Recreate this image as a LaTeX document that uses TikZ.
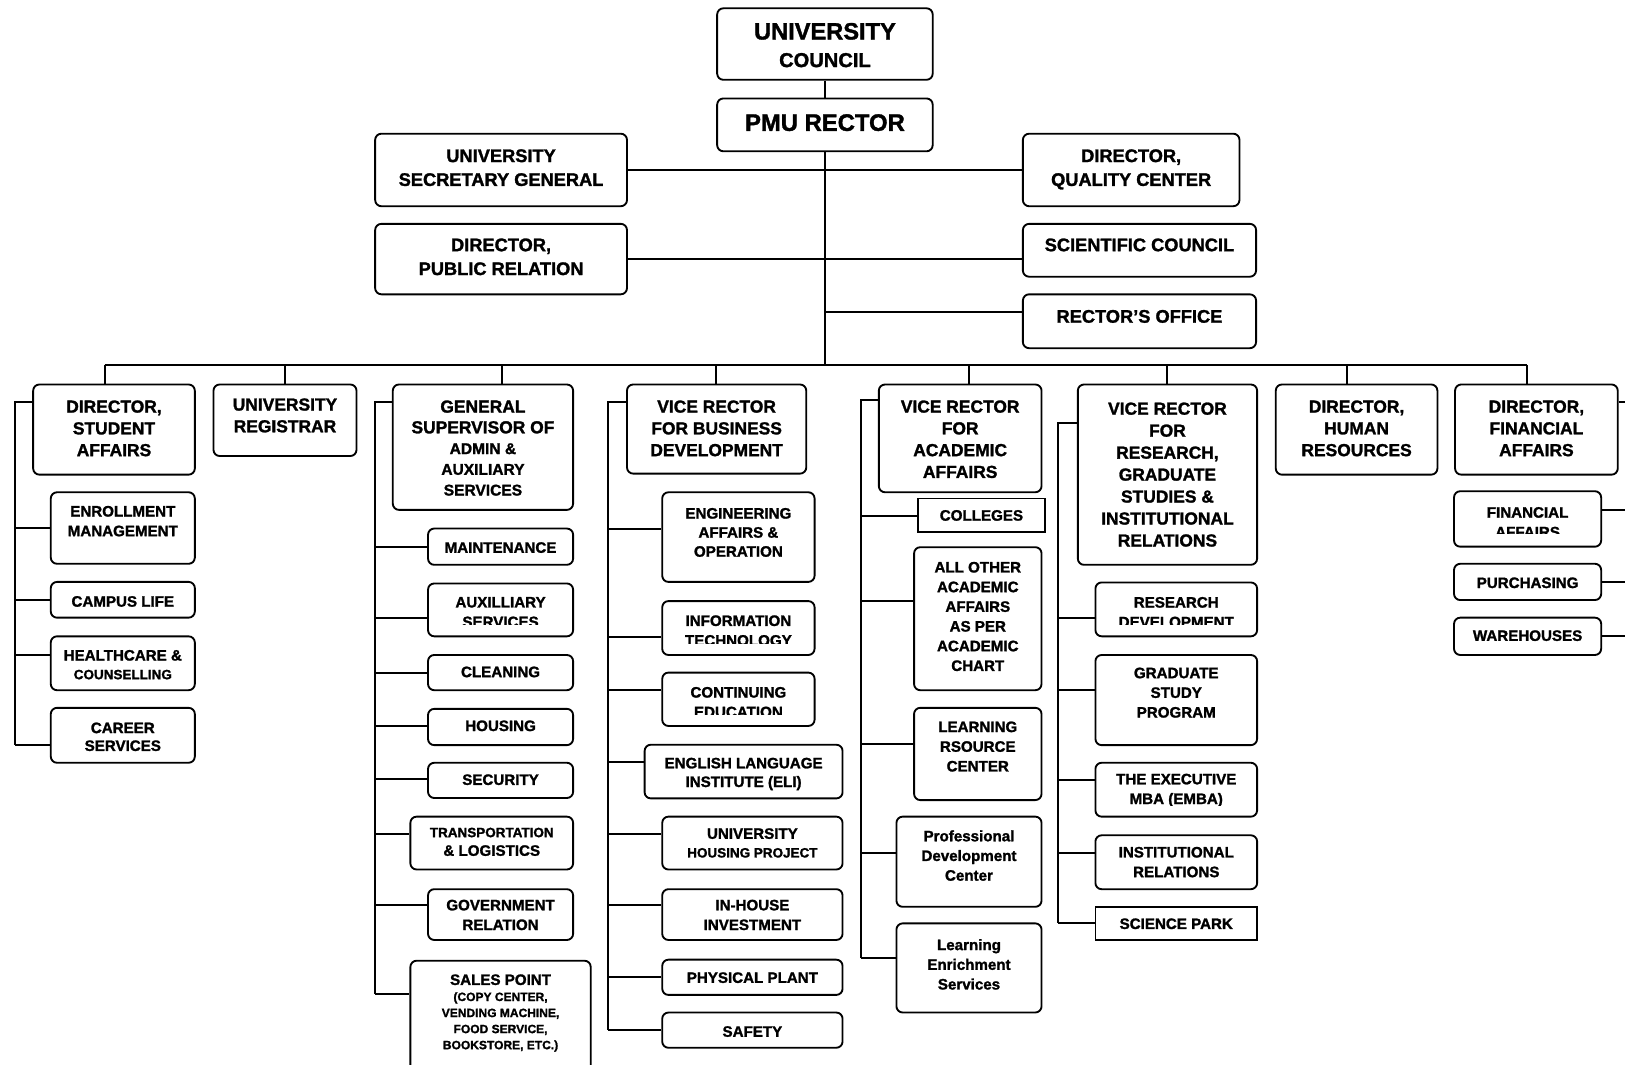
\documentclass[tikz,border=0pt]{standalone}
\usepackage{fontspec}
\setmainfont{Liberation Sans}[BoldFeatures={FakeBold=1.5}]

\tikzset{
  box/.style={draw, line width=0.9pt, rounded corners=3pt, inner sep=0pt},
  sharp/.style={sharp corners},
  lbl/.style={inner sep=0pt, align=center},
  lvA/.style={font=\bfseries\fontsize{8.8}{11.5}\selectfont},
  lvB/.style={font=\bfseries\fontsize{8.4}{10.5}\selectfont},
  lvC/.style={font=\bfseries\fontsize{7.3}{9.5}\selectfont},
  link/.style={line width=0.95pt},
}

% \ob{name}{x1}{y1}{x2}{y2}{text top}{text clip bottom}{style}{text}
\newcommand\ob[9]{%
  \node[box,#8, minimum width={(#4-#2)*0.5pt}, minimum height={(#5-#3)*0.5pt}]
    (#1) at ({(#2+#4)/2},{(#3+#5)/2}) {};
  \begin{scope}
    \clip (#2,#3) rectangle (#4,#7);
    \node[lbl,#8,anchor=north] (#1-t) at ({(#2+#4)/2},#6) {#9};
  \end{scope}}
% branch from a spine to the left side of a box
\newcommand\kid[3]{\draw[link] (#1 |- 0,#3) -- (#2.west |- 0,#3);}
% branch from the right side of a box to a spine
\newcommand\kidr[3]{\draw[link] (#2.east |- 0,#3) -- (#1 |- 0,#3);}

\begin{document}
\begin{tikzpicture}[x=0.5pt, y=-0.5pt]
\useasboundingbox (0,0) rectangle (1568,1027);
\clip (0,0) rectangle (1568,1027);
\fill[white] (0,0) rectangle (1568,1027);

% ---------- top management ----------
\ob{council}{692}{8}{900}{77}{21.8}{77}{font=\bfseries\fontsize{9.7}{13.3}\selectfont}{{\fontsize{11.4}{13.3}\selectfont UNIVERSITY}\\COUNCIL}
\ob{rector}{692}{95}{900}{146}{109.8}{146}{font=\bfseries\fontsize{11.5}{13}\selectfont}{PMU RECTOR}
\ob{usg}{362}{129}{605}{199}{143.7}{199}{lvA}{UNIVERSITY\\SECRETARY GENERAL}
\ob{dqc}{987}{129}{1196}{199}{143.7}{199}{lvA}{DIRECTOR,\\QUALITY CENTER}
\ob{dpr}{362}{216}{605}{284}{229.7}{284}{lvA}{DIRECTOR,\\PUBLIC RELATION}
\ob{sci}{987}{216}{1212}{267}{229.7}{267}{lvA}{SCIENTIFIC COUNCIL}
\ob{ro}{987}{284}{1212}{336}{298.7}{336}{lvA}{RECTOR'S OFFICE}

% ---------- second level ----------
\ob{sa}{32}{371}{188}{458}{386}{458}{lvB}{DIRECTOR,\\STUDENT\\AFFAIRS}
\ob{reg}{206}{371}{344}{440}{384}{440}{lvB}{UNIVERSITY\\REGISTRAR}
\ob{gs}{379}{371}{553}{492}{386}{492}{font=\bfseries\fontsize{8.4}{10}\selectfont}{GENERAL\\SUPERVISOR OF\\{\fontsize{7.5}{10}\selectfont ADMIN \&}\\{\fontsize{7.5}{10}\selectfont AUXILIARY}\\{\fontsize{7.5}{10}\selectfont SERVICES}}
\ob{bd}{605}{371}{778}{457}{386}{457}{lvB}{VICE RECTOR\\FOR BUSINESS\\DEVELOPMENT}
\ob{aa}{848}{371}{1005}{475}{386}{475}{lvB}{VICE RECTOR\\FOR\\ACADEMIC\\AFFAIRS}
\ob{rs}{1040}{371}{1213}{545}{388}{545}{font=\bfseries\fontsize{8.4}{10.6}\selectfont}{VICE RECTOR\\FOR\\RESEARCH,\\GRADUATE\\STUDIES \&\\INSTITUTIONAL\\RELATIONS}
\ob{hr}{1231}{371}{1387}{458}{386}{458}{lvB}{DIRECTOR,\\HUMAN\\RESOURCES}
\ob{fin}{1404}{371}{1561}{458}{386}{458}{lvB}{DIRECTOR,\\FINANCIAL\\AFFAIRS}

% ---------- student affairs ----------
\ob{enr}{49}{475}{188}{544}{487.8}{544}{lvC}{ENROLLMENT\\MANAGEMENT}
\ob{cam}{49}{561.5}{188}{596}{574.8}{596}{lvC}{CAMPUS LIFE}
\ob{hea}{49}{614}{188}{666}{626.8}{666}{font=\bfseries\fontsize{7.3}{9}\selectfont}{HEALTHCARE \&\\{\fontsize{6.5}{9}\selectfont COUNSELLING}}
\ob{car}{49}{683}{188}{736}{696.8}{736}{font=\bfseries\fontsize{7.3}{8.6}\selectfont}{CAREER\\SERVICES}

% ---------- admin & auxiliary services ----------
\ob{mai}{413}{510}{553}{545}{522.8}{545}{lvC}{MAINTENANCE}
\ob{aux}{413}{563}{553}{614}{575.7}{602.4}{lvC}{AUXILLIARY\\SERVICES}
\ob{cle}{413}{632}{553}{666}{642.8}{666}{lvC}{CLEANING}
\ob{hou}{413}{684}{553}{719}{694.8}{719}{lvC}{HOUSING}
\ob{sec}{413}{736}{553}{770}{746.8}{770}{lvC}{SECURITY}
\ob{tra}{396}{788}{553}{839}{798.3}{839}{font=\bfseries\fontsize{7.3}{9}\selectfont}{{\fontsize{6.5}{9}\selectfont TRANSPORTATION}\\\& LOGISTICS}
\ob{gov}{413}{858}{553}{907}{867.8}{907}{lvC}{GOVERNMENT\\RELATION}
\ob{sal}{396}{927}{570}{1045}{939.8}{1045}{font=\bfseries\fontsize{5.8}{7.75}\selectfont}{{\fontsize{7.3}{7.75}\selectfont SALES POINT}\\(COPY CENTER,\\VENDING MACHINE,\\FOOD SERVICE,\\BOOKSTORE, ETC.)}

% ---------- business development ----------
\ob{eng}{639}{475}{786}{561.5}{489.8}{561.5}{font=\bfseries\fontsize{7.3}{9.2}\selectfont}{ENGINEERING\\AFFAIRS \&\\OPERATION}
\ob{it}{639}{580}{786}{632}{593.4}{620.7}{lvC}{INFORMATION\\TECHNOLOGY}
\ob{ce}{639}{649}{786}{700.5}{662.5}{689}{lvC}{CONTINUING\\EDUCATION}
\ob{eli}{622}{718.6}{813}{770.4}{730.8}{770.4}{font=\bfseries\fontsize{7.3}{9}\selectfont}{ENGLISH LANGUAGE\\INSTITUTE (ELI)}
\ob{uhp}{639}{788}{813}{839}{798.8}{839}{font=\bfseries\fontsize{7.3}{9}\selectfont}{UNIVERSITY\\{\fontsize{6.5}{9}\selectfont HOUSING PROJECT}}
\ob{ihi}{639}{858}{813}{907}{867.8}{907}{lvC}{IN-HOUSE\\INVESTMENT}
\ob{pp}{639}{926}{813}{960}{937.8}{960}{lvC}{PHYSICAL PLANT}
\ob{saf}{639}{977}{813}{1011}{989.8}{1011}{lvC}{SAFETY}

% ---------- academic affairs ----------
\ob{col}{886}{481}{1008}{513}{491.8}{513}{lvC,sharp}{COLLEGES}
\ob{aoa}{882}{528}{1005}{666}{541.8}{666}{lvC}{ALL OTHER\\ACADEMIC\\AFFAIRS\\AS PER\\ACADEMIC\\CHART}
\ob{lrc}{882}{683}{1005}{772}{695.8}{772}{lvC}{LEARNING\\RSOURCE\\CENTER}
\ob{pdc}{865}{788}{1005}{875}{800.8}{875}{lvC}{Professional\\Development\\Center}
\ob{les}{865}{891}{1005}{977}{905.8}{977}{lvC}{Learning\\Enrichment\\Services}

% ---------- research, graduate studies ----------
\ob{rd}{1057}{562}{1213}{614}{575.7}{603}{lvC}{RESEARCH\\DEVELOPMENT}
\ob{gsp}{1057}{632}{1213}{719}{643.8}{719}{lvC}{GRADUATE\\STUDY\\PROGRAM}
\ob{emba}{1057}{736}{1213}{788}{746.2}{777}{lvC}{THE EXECUTIVE\\MBA (EMBA)}
\ob{ir}{1057}{806}{1213}{858}{816.8}{858}{lvC}{INSTITUTIONAL\\RELATIONS}
\ob{spk}{1057}{875}{1213}{907}{885.8}{907}{lvC,sharp}{SCIENCE PARK}

% ---------- financial affairs ----------
\ob{fa}{1403}{474}{1545}{527.5}{488.9}{514.6}{lvC}{FINANCIAL\\AFFAIRS}
\ob{pur}{1403}{544}{1545}{579}{556.8}{579}{lvC}{PURCHASING}
\ob{war}{1403}{596}{1545}{632}{607.8}{632}{lvC}{WAREHOUSES}

% ---------- connectors: top ----------
\draw[link] (council.south) -- (rector.north);
\coordinate (hub) at (796,352);
\draw[link] (rector.south) -- (hub);
\draw[link] (usg.east) -- (dqc.west);
\draw[link] (dpr.east) -- (dpr.east -| sci.west);
\coordinate (roIn) at (ro.west |- 0,301);
\draw[link] (roIn -| rector.south) -- (roIn);

% ---------- connectors: bus to second level ----------
\foreach \n/\x in {sa/101, reg/275, gs/484, bd/691, aa/935, rs/1126, hr/1300, fin/1473}
  \coordinate (d-\n) at (\x,352);
\draw[link] (d-sa) -- (d-fin);
\foreach \n in {sa, reg, gs, bd, aa, rs, hr, fin}
  \draw[link] (d-\n) -- (d-\n |- \n.north);

% ---------- spines ----------
\coordinate (sa-sp) at (14.5,388);
\draw[link] (sa.west |- sa-sp) -- (sa-sp) -- (sa-sp |- 0,719);
\kid{sa-sp}{enr}{509.5}
\kid{sa-sp}{cam}{579}
\kid{sa-sp}{hea}{632}
\kid{sa-sp}{car}{719}

\coordinate (gs-sp) at (362,388);
\draw[link] (gs.west |- gs-sp) -- (gs-sp) -- (gs-sp |- 0,959);
\kid{gs-sp}{mai}{527.4}
\kid{gs-sp}{aux}{596.3}
\kid{gs-sp}{cle}{649}
\kid{gs-sp}{hou}{700.5}
\kid{gs-sp}{sec}{752}
\kid{gs-sp}{tra}{804.7}
\kid{gs-sp}{gov}{873.7}
\kid{gs-sp}{sal}{959}

\coordinate (bd-sp) at (587,388);
\draw[link] (bd.west |- bd-sp) -- (bd-sp) -- (bd-sp |- 0,993.5);
\kid{bd-sp}{eng}{510}
\kid{bd-sp}{it}{614.4}
\kid{bd-sp}{ce}{666}
\kid{bd-sp}{eli}{735}
\kid{bd-sp}{uhp}{804.7}
\kid{bd-sp}{ihi}{873.7}
\kid{bd-sp}{pp}{942.7}
\kid{bd-sp}{saf}{993.5}

\coordinate (aa-sp) at (830.4,386);
\draw[link] (aa.west |- aa-sp) -- (aa-sp) -- (aa-sp |- 0,924.6);
\kid{aa-sp}{col}{497.9}
\kid{aa-sp}{aoa}{580}
\kid{aa-sp}{lrc}{718}
\kid{aa-sp}{pdc}{823.3}
\kid{aa-sp}{les}{924.6}

\coordinate (rs-sp) at (1021.2,407.7);
\draw[link] (rs.west |- rs-sp) -- (rs-sp) -- (rs-sp |- 0,891);
\kid{rs-sp}{rd}{596.3}
\kid{rs-sp}{gsp}{666}
\kid{rs-sp}{emba}{753}
\kid{rs-sp}{ir}{823.3}
\kid{rs-sp}{spk}{891}

\coordinate (fin-sp) at (1585,387.6);
\draw[link] (fin.east |- fin-sp) -- (fin-sp) -- (fin-sp |- 0,613.7);
\kidr{fin-sp}{fa}{492}
\kidr{fin-sp}{pur}{561.3}
\kidr{fin-sp}{war}{613.7}
\end{tikzpicture}
\end{document}
